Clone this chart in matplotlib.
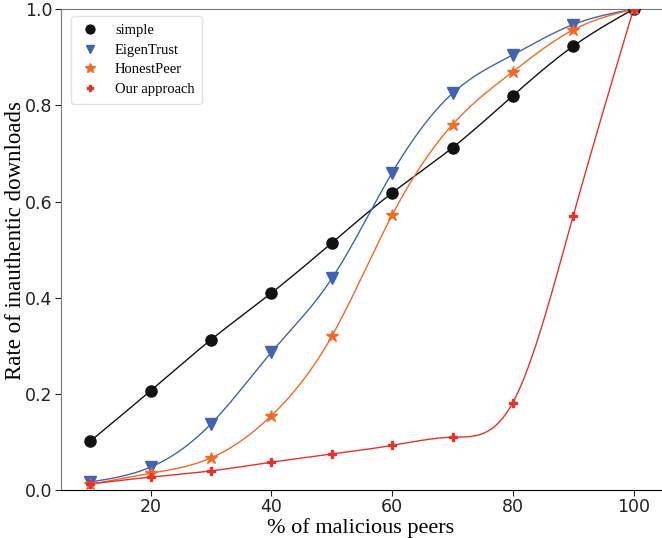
import numpy as np
import matplotlib.pyplot as plt

x = [10, 20, 30, 40, 50, 60, 70, 80, 90, 100]
simple = [0.102, 0.207, 0.313, 0.41, 0.514, 0.618, 0.712, 0.82, 0.923, 1.0]
eigentrust = [0.017, 0.048, 0.138, 0.287, 0.44, 0.66, 0.825, 0.905, 0.968, 1.0]
honestpeer = [0.012, 0.035, 0.067, 0.155, 0.32, 0.572, 0.76, 0.87, 0.957, 1.0]
our_approach = [0.013, 0.027, 0.04, 0.058, 0.075, 0.093, 0.11, 0.182, 0.57, 1.0]


def spline(xs, ys, n=400):
    # natural cubic spline through the points, only used for drawing the curve
    xs = np.asarray(xs, float)
    ys = np.asarray(ys, float)
    k = len(xs)
    h = np.diff(xs)
    A = np.zeros((k, k))
    b = np.zeros(k)
    A[0, 0] = A[-1, -1] = 1
    for i in range(1, k - 1):
        A[i, i - 1] = h[i - 1]
        A[i, i] = 2 * (h[i - 1] + h[i])
        A[i, i + 1] = h[i]
        b[i] = 3 * ((ys[i + 1] - ys[i]) / h[i] - (ys[i] - ys[i - 1]) / h[i - 1])
    c = np.linalg.solve(A, b)
    xx = np.linspace(xs[0], xs[-1], n)
    idx = np.clip(np.searchsorted(xs, xx) - 1, 0, k - 2)
    dx = xx - xs[idx]
    bb = (ys[idx + 1] - ys[idx]) / h[idx] - h[idx] * (2 * c[idx] + c[idx + 1]) / 3
    dd = (c[idx + 1] - c[idx]) / (3 * h[idx])
    yy = ys[idx] + bb * dx + c[idx] * dx ** 2 + dd * dx ** 3
    return xx, yy


series = [
    ("simple", simple, "#111111", "o", 8),
    ("EigenTrust", eigentrust, "#4262b4", "v", 8),
    ("HonestPeer", honestpeer, "#f26a24", "*", 9),
    ("Our approach", our_approach, "#e5332a", "P", 6),
]

fig = plt.figure(figsize=(6.62, 5.38), dpi=100)
ax = fig.add_axes([0.092, 0.089, 0.906, 0.894])

for name, ys, col, mk, ms in series:
    xx, yy = spline(x, ys)
    ax.plot(xx, yy, color=col, lw=1.0, zorder=2)
    ax.plot(x, ys, ls="none", marker=mk, color=col, markersize=ms,
            label=name, zorder=3)

ax.set_xlim(5.1, 104.5)
ax.set_ylim(0, 1.0)
ax.set_xticks([20, 40, 60, 80, 100])
ax.set_yticks([0.0, 0.2, 0.4, 0.6, 0.8, 1.0])
ax.tick_params(labelsize=12.5, length=4, pad=2, colors="#222222")

ax.spines["right"].set_visible(False)
ax.spines["top"].set_color("#777777")
ax.spines["left"].set_color("#777777")
ax.spines["bottom"].set_color("black")

ax.set_xlabel("% of malicious peers", family="Liberation Serif", fontsize=16, labelpad=1)
ax.set_ylabel("Rate of inauthentic downloads", family="Liberation Serif", fontsize=16.5)
ax.yaxis.set_label_coords(-0.058, 0.52)

leg = ax.legend(loc="upper left", prop={"family": "Liberation Serif", "size": 10.5},
                frameon=True, borderpad=0.5, labelspacing=0.45, handletextpad=0.9,
                handlelength=1.6, markerscale=0.8, bbox_to_anchor=(0.005, 1.0))
leg.get_frame().set_edgecolor("#dddddd")

fig.savefig("out.png", dpi=100)
